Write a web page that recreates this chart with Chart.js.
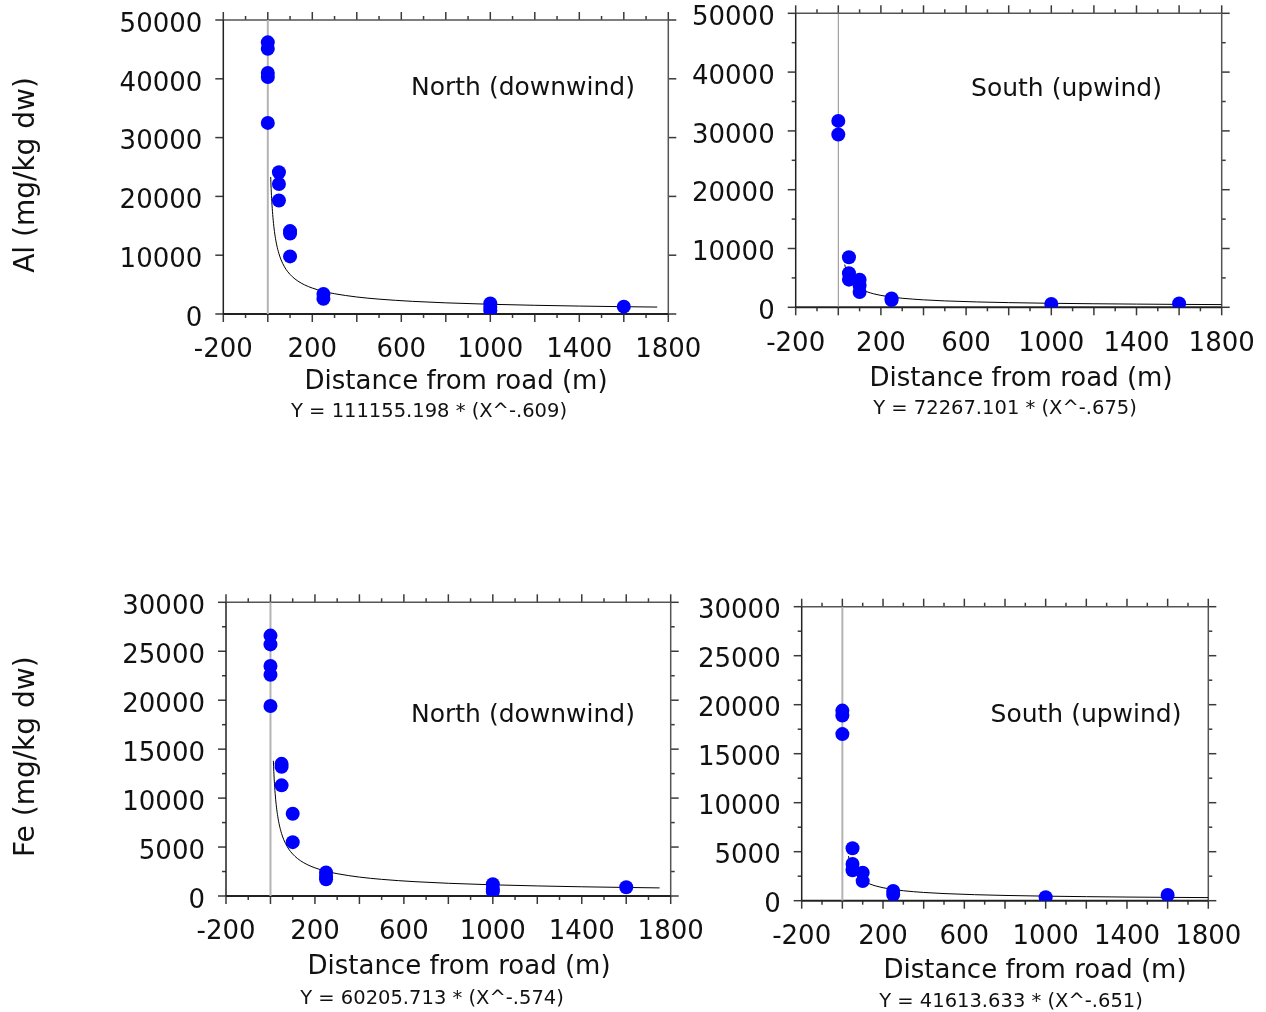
<!DOCTYPE html>
<html>
<head>
<meta charset="utf-8">
<title>Al and Fe in soil vs. distance from road</title>
<script src="https://cdn.jsdelivr.net/npm/chart.js@4.4.1/dist/chart.umd.min.js"></script>
<style>
  html, body { margin: 0; padding: 0; background: #ffffff; }
  #wrap { position: relative; width: 1266px; height: 1012px; overflow: hidden; }
  #wrap canvas { position: absolute; left: 0; top: 0; }
</style>
</head>
<body>
<div id="wrap">
  <canvas id="alNorth" width="1266" height="1012"></canvas>
  <canvas id="alSouth" width="1266" height="1012"></canvas>
  <canvas id="feNorth" width="1266" height="1012"></canvas>
  <canvas id="feSouth" width="1266" height="1012"></canvas>
</div>
<script>
// ---- Measured concentrations (mg/kg dw) by distance from road (m) ----
const alNorthX = [0, 0, 0, 0, 0, 50, 50, 50, 100, 100, 100, 250, 250, 1000, 1000, 1000, 1600];
const alNorthY = [46200, 45100, 41000, 40300, 32500, 24100, 22100, 19300, 14100, 13700, 9800, 3400, 2600, 1800, 1200, 600, 1250];

const alSouthX = [0, 0, 50, 50, 50, 100, 100, 100, 250, 250, 1000, 1600];
const alSouthY = [31700, 29400, 8500, 5800, 4700, 4700, 3700, 2600, 1500, 1250, 550, 650];

const feNorthX = [0, 0, 0, 0, 0, 50, 50, 50, 100, 100, 250, 250, 250, 1000, 1000, 1000, 1600];
const feNorthY = [26600, 25700, 23500, 22600, 19400, 13500, 13200, 11300, 8400, 5500, 2400, 2000, 1700, 1200, 700, 450, 900];

const feSouthX = [0, 0, 0, 50, 50, 50, 100, 100, 250, 250, 1000, 1600];
const feSouthY = [19400, 18900, 17000, 5350, 3750, 3100, 2850, 2000, 1000, 600, 350, 580];

// ---- Power-law fits  Y = a * X^b  (Al N, Al S, Fe N, Fe S) ----
const fitA = [111155.198, 72267.101, 60205.713, 41613.633];
const fitB = [-0.609, -0.675, -0.574, -0.651];

// distances at which each fitted curve is evaluated
const northCurveX = [13, 15, 18, 22, 27, 33, 40, 50, 60, 75, 90, 110, 135, 165, 200, 250, 300, 400, 500, 650, 800, 1000, 1200, 1400, 1600, 1750];
const southCurveX = [30, 35, 40, 50, 60, 75, 90, 110, 135, 165, 200, 250, 300, 400, 500, 650, 800, 1000, 1200, 1400, 1600, 1800];

// ---- Axis ticks ----
const xTickValues = [-200, 200, 600, 1000, 1400, 1800];
const xRange = [-200, 1800];
const xMajorStep = 200;
const xMinorStep = 100;
const alYRange = [0, 50000];
const feYRange = [0, 30000];

// ---- Panel layout ----
const W = 1266, H = 1012;
const Y_AXIS_W = 120, X_AXIS_H = 100;
const FONT = '"DejaVu Sans", Verdana, sans-serif';

const panels = [
  { id: 'alNorth', xs: alNorthX, ys: alNorthY, fit: 0, curveX: northCurveX,
    yRange: alYRange, yStep: 10000, yMinor: null,
    area: { left: 223.3, top: 20, right: 668.3, bottom: 314 },
    note: 'North (downwind)', notePos: [523, 88],
    titlePos: [456, 389], eqPos: [429, 417],
    yTitle: 'Al (mg/kg dw)', yTitlePos: [27, 175],
    zeroColor: '#b4b4b4', zeroWidth: 2 },
  { id: 'alSouth', xs: alSouthX, ys: alSouthY, fit: 1, curveX: southCurveX,
    yRange: alYRange, yStep: 10000, yMinor: 5000,
    area: { left: 795.7, top: 13.3, right: 1221.7, bottom: 307.3 },
    note: 'South (upwind)', notePos: [1066.5, 89],
    titlePos: [1021, 386], eqPos: [1005, 414],
    yTitle: null,
    zeroColor: '#8c8c8c', zeroWidth: 1 },
  { id: 'feNorth', xs: feNorthX, ys: feNorthY, fit: 2, curveX: northCurveX,
    yRange: feYRange, yStep: 5000, yMinor: 2500,
    area: { left: 226, top: 602.3, right: 670.7, bottom: 896 },
    note: 'North (downwind)', notePos: [523, 715],
    titlePos: [459, 974], eqPos: [432, 1004],
    yTitle: 'Fe (mg/kg dw)', yTitlePos: [27, 756.7],
    zeroColor: '#b4b4b4', zeroWidth: 2 },
  { id: 'feSouth', xs: feSouthX, ys: feSouthY, fit: 3, curveX: southCurveX,
    yRange: feYRange, yStep: 5000, yMinor: 2500,
    area: { left: 801.7, top: 606.7, right: 1208.3, bottom: 900.7 },
    note: 'South (upwind)', notePos: [1086, 715],
    titlePos: [1035, 978], eqPos: [1011, 1007],
    yTitle: null,
    zeroColor: '#b4b4b4', zeroWidth: 2 }
];

function equationText(k) {
  const exp = String(Math.abs(fitB[k])).replace(/^0/, '');
  return 'Y = ' + fitA[k].toFixed(3) + ' * (X^-' + exp + ')';
}

function strokeLine(ctx, x1, y1, x2, y2) {
  ctx.beginPath();
  ctx.moveTo(x1, y1);
  ctx.lineTo(x2, y2);
  ctx.stroke();
}

// Boxed frame with outward major/minor ticks on all four sides
function frameAndTicks(p) {
  return {
    id: 'frameAndTicks',
    beforeDatasetsDraw(chart) {
      const { ctx, chartArea: a } = chart;
      const xs = chart.scales.x, ys = chart.scales.y;
      const MAJ = 8, MIN = 4;
      ctx.save();
      ctx.lineCap = 'butt';
      ctx.lineWidth = 1.5;
      ctx.strokeStyle = '#3a3a3a';
      for (let v = xRange[0]; v <= xRange[1] + 1e-6; v += xMinorStep) {
        const px = xs.getPixelForValue(v);
        const len = (Math.abs(v) % xMajorStep === 0) ? MAJ : MIN;
        strokeLine(ctx, px, a.bottom, px, a.bottom + len);
        strokeLine(ctx, px, a.top, px, a.top - len);
      }
      const step = p.yMinor || p.yStep;
      for (let v = p.yRange[0]; v <= p.yRange[1] + 1e-6; v += step) {
        const py = ys.getPixelForValue(v);
        const len = (v % p.yStep === 0) ? MAJ : MIN;
        strokeLine(ctx, a.left, py, a.left - len, py);
        strokeLine(ctx, a.right, py, a.right + len, py);
      }
      // frame: left/bottom darker, top/right slightly lighter
      ctx.strokeStyle = '#555555';
      strokeLine(ctx, a.left, a.top, a.right, a.top);
      strokeLine(ctx, a.right, a.top, a.right, a.bottom);
      ctx.strokeStyle = '#222222';
      strokeLine(ctx, a.left, a.top, a.left, a.bottom);
      ctx.lineWidth = 2;
      strokeLine(ctx, a.left, a.bottom, a.right, a.bottom);
      ctx.restore();
    },
    afterDraw(chart) {
      const { ctx } = chart;
      ctx.save();
      ctx.fillStyle = '#111111';
      // site label inside the plot
      ctx.font = '25px ' + FONT;
      ctx.textAlign = 'center';
      ctx.textBaseline = 'middle';
      ctx.fillText(p.note, p.notePos[0], p.notePos[1]);
      // x axis title
      ctx.font = '26px ' + FONT;
      ctx.textBaseline = 'alphabetic';
      ctx.fillText('Distance from road (m)', p.titlePos[0], p.titlePos[1]);
      // fitted equation
      ctx.font = '19.5px ' + FONT;
      ctx.fillText(equationText(p.fit), p.eqPos[0], p.eqPos[1]);
      // y axis title (left column only)
      if (p.yTitle) {
        ctx.font = '28px ' + FONT;
        ctx.translate(p.yTitlePos[0], p.yTitlePos[1]);
        ctx.rotate(-Math.PI / 2);
        ctx.textBaseline = 'middle';
        ctx.fillText(p.yTitle, 0, 0);
      }
      ctx.restore();
    }
  };
}

function buildPanel(p) {
  const a = p.area;
  const points = p.xs.map((x, i) => ({ x: x, y: p.ys[i] }));
  const curve = p.curveX.map(x => ({ x: x, y: fitA[p.fit] * Math.pow(x, fitB[p.fit]) }));
  const roadLine = [{ x: 0, y: p.yRange[0] }, { x: 0, y: p.yRange[1] }];
  const tickFont = { family: FONT, size: 26 };

  new Chart(document.getElementById(p.id), {
    type: 'scatter',
    data: {
      datasets: [
        { type: 'scatter', data: points, order: 0,
          pointRadius: 7, pointHoverRadius: 7, pointBorderWidth: 0,
          backgroundColor: '#0000ff', borderColor: '#0000ff' },
        { type: 'line', data: curve, order: 1,
          borderColor: '#000000', borderWidth: 1, pointRadius: 0,
          cubicInterpolationMode: 'monotone', fill: false },
        { type: 'line', data: roadLine, order: 2,
          borderColor: p.zeroColor, borderWidth: p.zeroWidth, pointRadius: 0, fill: false }
      ]
    },
    options: {
      responsive: false,
      animation: false,
      devicePixelRatio: 1,
      events: [],
      layout: {
        autoPadding: false,
        padding: {
          left: a.left - Y_AXIS_W,
          top: a.top,
          right: W - a.right,
          bottom: H - a.bottom - X_AXIS_H
        }
      },
      plugins: { legend: { display: false }, tooltip: { enabled: false }, title: { display: false } },
      scales: {
        x: {
          type: 'linear', position: 'bottom',
          min: xRange[0], max: xRange[1],
          afterBuildTicks: s => { s.ticks = xTickValues.map(v => ({ value: v })); },
          afterFit: s => { s.height = X_AXIS_H; s.paddingLeft = 0; s.paddingRight = 0; },
          grid: { display: false, drawTicks: false },
          border: { display: false },
          ticks: { padding: 21, color: '#111111', font: tickFont, maxRotation: 0, minRotation: 0,
                   autoSkip: false, callback: v => String(v) }
        },
        y: {
          type: 'linear', position: 'left',
          min: p.yRange[0], max: p.yRange[1],
          afterFit: s => { s.width = Y_AXIS_W; s.paddingTop = 0; s.paddingBottom = 0; },
          grid: { display: false, drawTicks: false },
          border: { display: false },
          ticks: { stepSize: p.yStep, padding: 21, labelOffset: 5, color: '#111111', font: tickFont,
                   autoSkip: false, callback: v => String(v) }
        }
      }
    },
    plugins: [frameAndTicks(p)]
  });
}

panels.forEach(buildPanel);
</script>
</body>
</html>
